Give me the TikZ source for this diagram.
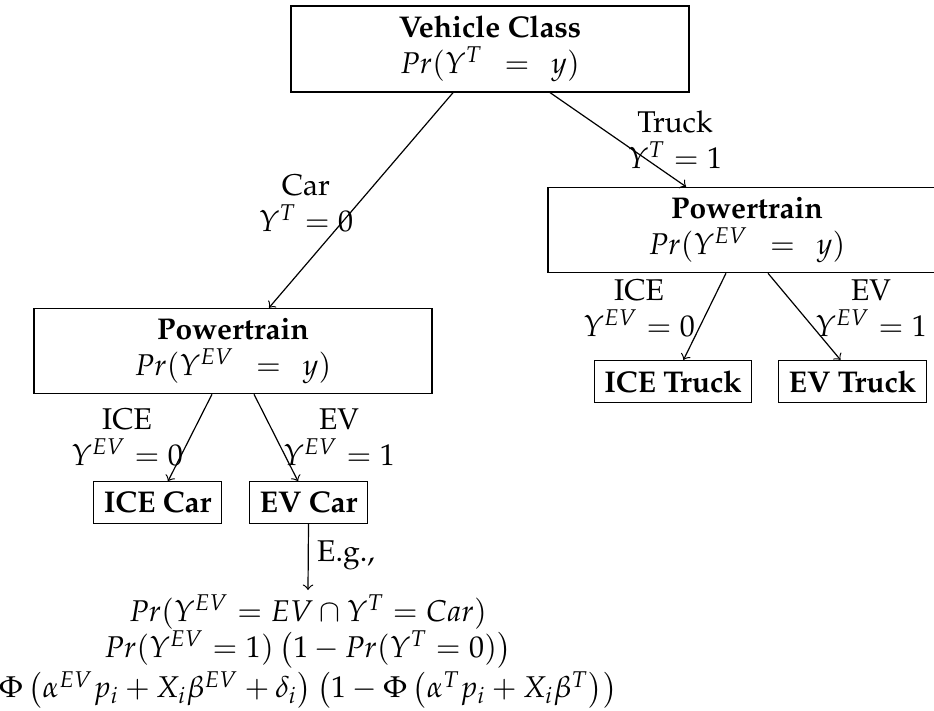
\documentclass[tikz,border=0pt]{standalone}
\usepackage[T1]{fontenc}
\usepackage{mathpazo}
\usetikzlibrary{arrows,positioning}

\tikzset{
	choice/.style={draw, align=center, minimum width=132.7pt},
	outcome/.style={draw, font=\bfseries},
	branch/.style={draw=none, fill=none, align=center},
}

\begin{document}
\begin{tikzpicture}[x=0.3333pt, y=-0.3333pt]
	\useasboundingbox (0,0) rectangle (934,710);
	
	\node[choice] (vclass) at (490,49) {\textbf{Vehicle Class}\\$Pr(Y^T \;\,=\;\, y)$};
	\node[choice] (ptcar) at (233,351) {\textbf{Powertrain}\\$Pr(Y^{EV} \;\,=\;\, y)$};
	\node[choice] (pttruck) at (747,230) {\textbf{Powertrain}\\$Pr(Y^{EV} \;\,=\;\, y)$};
	
	\node[outcome] (icecar) at (157.5,502.5) {ICE Car};
	\node[outcome] (evcar) at (308.5,502.5) {EV Car};
	\node[outcome] (icetruck) at (673,381.5) {ICE Truck};
	\node[outcome] (evtruck) at (852.5,381.5) {EV Truck};
	
	\node[branch] (lcar) at (306,203) {Car\\$Y^T = 0$};
	\node[branch] (ltruck) at (675,140) {Truck\\$Y^T = 1$};
	\node[branch] (lcarice) at (127,437) {ICE\\$Y^{EV} = 0$};
	\node[branch] (lcarev) at (339,437) {EV\\$Y^{EV} = 1$};
	\node[branch] (ltruckice) at (639,308) {ICE\\$Y^{EV} = 0$};
	\node[branch] (ltruckev) at (871,308) {EV\\$Y^{EV} = 1$};
	\node[branch] (leg) at (346,555) {E.g.,};
	
	\node[branch, anchor=north, inner sep=1.5pt] (formula) at (308,590) {$Pr(Y^{EV} = EV \cap Y^T = Car)$\\
		$Pr(Y^{EV} = 1)\left(1 - Pr(Y^T = 0)\right)$\\
		$\Phi\left(\alpha^{EV} p_i + X_i\beta^{EV} + \delta_i\right)\left(1 - \Phi\left(\alpha^T p_i + X_i\beta^T\right)\right)$};
	
	\draw[->] ([xshift=-12.3pt]vclass.south) -- ([xshift=12pt]ptcar.north);
	\draw[->] ([xshift=20pt]vclass.south) -- ([xshift=-20.3pt]pttruck.north);
	\draw[->] ([xshift=-7pt]ptcar.south) -- ([xshift=3.5pt]icecar.north);
	\draw[->] ([xshift=7pt]ptcar.south) -- ([xshift=-3.5pt]evcar.north);
	\draw[->] ([xshift=-7pt]pttruck.south) -- ([xshift=3.5pt]icetruck.north);
	\draw[->] ([xshift=7pt]pttruck.south) -- ([xshift=-4pt]evtruck.north);
	\draw[->] (evcar.south) -- (formula.north);
\end{tikzpicture}
\end{document}
